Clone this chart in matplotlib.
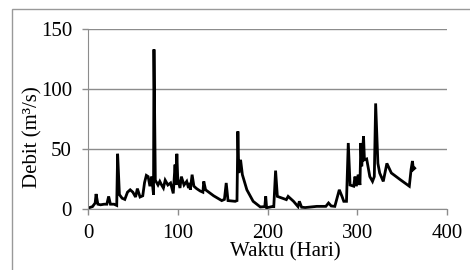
import matplotlib.pyplot as plt
from matplotlib.patches import Rectangle

# daily discharge (day, m3/s)
hari = [1, 5, 8, 9, 11, 14, 18, 21, 23, 25, 29, 32, 33, 35, 38, 41, 44, 47, 50,
        53, 55, 58, 61, 63, 65, 67, 69, 71, 73, 73.5, 75, 78, 80, 82, 84, 86, 89,
        92, 95, 97, 98, 99, 100, 102.5, 104, 107, 110, 112, 113.6, 114, 116, 118,
        121, 125, 128, 129, 131, 140, 149, 152, 154, 156, 164, 166, 167, 168, 170,
        172, 177, 184, 192, 197, 198, 199, 205, 207, 209, 211, 221, 223, 229, 234,
        235.5, 238, 242, 255, 265, 268, 271, 275, 280, 283, 285, 288, 290, 292,
        296, 297.5, 299, 301, 303, 304, 305, 307, 308, 310.5, 314, 317, 319, 320.5,
        323, 325, 329, 333, 338, 348, 358, 360, 361.5, 362.5, 364]
debit = [1, 2, 5, 12.5, 4, 3.5, 4, 4, 10.5, 4, 4, 3, 46, 12, 9, 8, 14, 16, 14,
         10, 17, 10, 11, 22, 28, 27, 19, 27, 12, 133, 24, 20, 23, 20, 17.5, 24, 20,
         21.7, 13, 37, 20, 46, 25, 17.5, 27, 20, 23, 17.5, 21.7, 16, 28.6, 19,
         17, 15, 14, 23, 16, 11, 7, 8, 21.7, 7, 6.4, 7, 64.7, 30, 41, 28.6,
         16, 6.4, 1.7, 2, 10.5, 1, 2, 2, 32, 10.5, 7.8, 10.5, 6.4, 2,
         6.4, 1.5, 1.2, 2.2, 2.2, 5, 2.5, 2.2, 16, 10.5, 6.4, 6.4, 55, 20,
         19, 27, 19, 28.6, 20, 55, 35.6, 60.5, 41, 41.7, 27, 23, 27, 88,
         38, 30, 23, 38, 30, 24.4, 19, 33, 40, 33, 34]

x_ticks = [0, 100, 200, 300, 400]
y_ticks = [0, 50, 100, 150]

plt.rcParams["font.family"] = ["Liberation Serif", "DejaVu Serif"]

fig = plt.figure(figsize=(4.7, 2.7), dpi=100)
ax = fig.add_axes([88 / 470, 1 - 209 / 270, 359 / 470, 180 / 270])

# outer chart border (cropped on right and bottom)
fig.patches.append(
    Rectangle((12 / 470, -0.1), 1.2, 1 - 9 / 270 + 0.1, transform=fig.transFigure,
              fill=False, ec="#999999", lw=1.0)
)

ax.plot(hari, debit, color="black", lw=2.0, solid_joinstyle="miter")

ax.set_xlim(0, 400)
ax.set_ylim(0, 150)
ax.set_xticks(x_ticks)
ax.set_yticks(y_ticks)
ax.yaxis.grid(True, color="#8c8c8c", lw=1.0)
ax.set_axisbelow(True)
for side in ["top", "right"]:
    ax.spines[side].set_visible(False)
for side in ["left", "bottom"]:
    ax.spines[side].set_color("#8c8c8c")
ax.tick_params(axis="both", colors="#8c8c8c", labelcolor="black",
               labelsize=15, length=4.5, width=1.0)
ax.tick_params(axis="y", pad=7)
ax.tick_params(axis="x", pad=6)
ax.set_xlabel("Waktu (Hari)", fontsize=15)
ax.set_ylabel("Debit (m³/s)", fontsize=15)
ax.xaxis.set_label_coords((285 - 88) / 359, (209 - 252) / 180)
ax.yaxis.set_label_coords((33 - 88) / 359, (209 - 137) / 180)
ax.xaxis.label.set_va("center")
ax.yaxis.label.set_va("center")

fig.savefig("out.png", dpi=100)
